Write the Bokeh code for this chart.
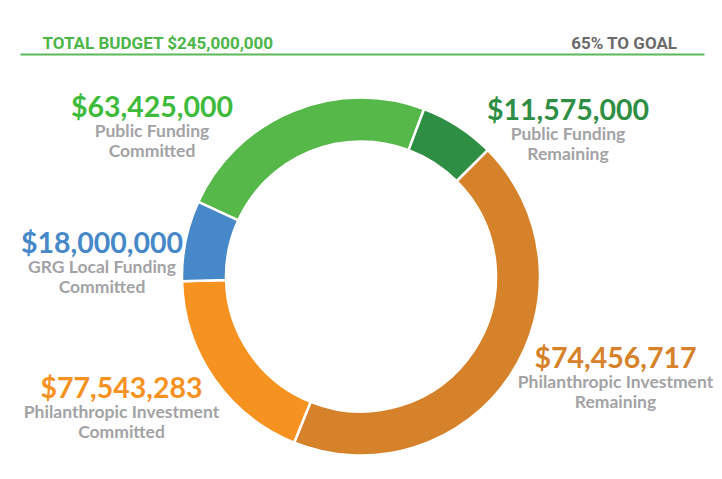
from bokeh.plotting import figure
from bokeh.models import ColumnDataSource, Range1d
from bokeh.core.properties import value
from bokeh.embed import file_html
from bokeh.resources import INLINE
import numpy as np

# ---- data ----
categories = ["Public Funding Committed", "Public Funding Remaining",
              "Philanthropic Investment Remaining", "Philanthropic Investment Committed",
              "GRG Local Funding Committed"]
amounts = [63425000, 11575000, 74456717, 77543283, 18000000]
# share of the ring each slice occupies as drawn in the picture (percent)
ring_share_pct = [23.9, 6.8, 43.55, 18.5, 7.25]
colors = ["#55b848", "#2e8f44", "#d6822a", "#f6921f", "#4688c8"]
label_colors = ["#3fbb3c", "#2e8f44", "#d6822a", "#f6921f", "#4688c8"]
sub_line1 = ["Public Funding", "Public Funding", "Philanthropic Investment",
             "Philanthropic Investment", "GRG Local Funding"]
sub_line2 = ["Committed", "Remaining", "Remaining", "Committed", "Committed"]
total_budget = 245000000
goal_pct = 65

W, H = 722, 479
p = figure(width=W, height=H, output_backend="svg", toolbar_location=None,
           x_range=Range1d(0, W), y_range=Range1d(0, H), min_border=0)
p.axis.visible = False
p.grid.visible = False
p.outline_line_color = None
p.background_fill_color = "white"
p.border_fill_color = "white"

def Y(py):
    return H - py

# ---- donut ----
cx, cy = 360.5, Y(276)
r_out, r_in = 179, 135
start_clock = -65.4
shares = np.array(ring_share_pct) / sum(ring_share_pct) * 360.0
c_end = start_clock + np.cumsum(shares)
c_start = c_end - shares
# clockwise-from-top -> math angle
start_ang = np.radians(90 - c_end)
end_ang = np.radians(90 - c_start)
src = ColumnDataSource(dict(start=start_ang, end=end_ang, color=colors, name=categories))
p.annular_wedge(x=cx, y=cy, inner_radius=r_in, outer_radius=r_out,
                start_angle="start", end_angle="end", color="color",
                line_color="white", line_width=2.5, source=src)

# ---- labels ----
lab_x = [151.5, 567.5, 615, 121, 101.5]
lab_y = [105, 108, 356, 386, 241]
amt_text = ["$" + f"{a:,}" for a in amounts]
p.text(x=lab_x, y=[Y(v) for v in lab_y], text=amt_text, text_color=label_colors,
       text_font=value("Lato"), text_font_style="bold", text_font_size="28.5px",
       text_align="center", text_baseline="middle")
p.text(x=lab_x, y=[Y(v + 25) for v in lab_y], text=sub_line1, text_color="#a3a3a5",
       text_font=value("Lato"), text_font_style="bold", text_font_size="17.5px",
       text_align="center", text_baseline="middle")
p.text(x=lab_x, y=[Y(v + 45) for v in lab_y], text=sub_line2, text_color="#a3a3a5",
       text_font=value("Lato"), text_font_style="bold", text_font_size="17.5px",
       text_align="center", text_baseline="middle")

# ---- header ----
p.text(x=[42], y=[Y(42)], text=[f"TOTAL BUDGET ${total_budget:,}"], text_color="#4cb648",
       text_font=value("Roboto"), text_font_style="bold", text_font_size="17px",
       text_align="left", text_baseline="middle")
p.text(x=[677], y=[Y(42)], text=[f"{goal_pct}% TO GOAL"], text_color="#6b6b6b",
       text_font=value("Roboto"), text_font_style="bold", text_font_size="17px",
       text_align="right", text_baseline="middle")
p.line(x=[20, 704], y=[Y(54), Y(54)], line_color="#5cb95a", line_width=2)

open("out.html", "w").write(file_html(p, INLINE))
